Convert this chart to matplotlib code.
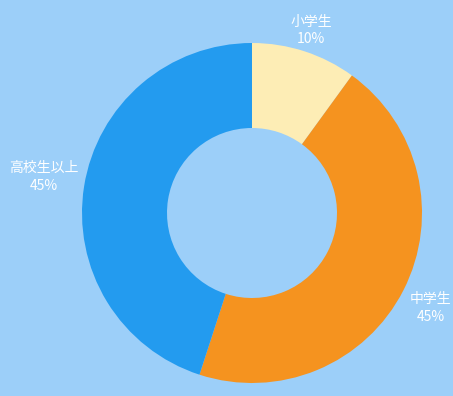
import numpy as np
import matplotlib
matplotlib.use('Agg')
import matplotlib.pyplot as plt

plt.rcParams['font.family'] = ['Noto Sans CJK JP', 'DejaVu Sans']

labels = ['小学生', '中学生', '高校生以上']
shares = [10, 45, 45]
colors = ['#fdedb5', '#f5931f', '#239bef']
label_dist = [1.13, 1.19, 1.245]  # how far each label sits out from the ring
label_turn = [0, -1.0, -0.8]      # small angle nudges (degrees)

bg = '#9ccff9'
W, H = 453, 396
fig = plt.figure(figsize=(W / 100, H / 100), dpi=100, facecolor=bg)
ax = fig.add_axes([0, 0, 1, 1])
ax.set_facecolor(bg)

cx, cy, r = 252, H - 213, 170
wedges, _ = ax.pie(shares, colors=colors, startangle=90, counterclock=False,
                   center=(cx, cy), radius=r, frame=True,
                   wedgeprops=dict(width=85, edgecolor='none'))

for w, lab, val, d, t in zip(wedges, labels, shares, label_dist, label_turn):
    mid = np.deg2rad((w.theta1 + w.theta2) / 2 + t)
    x = cx + r * d * np.cos(mid)
    y = cy + r * d * np.sin(mid)
    ax.text(x, y, f'{lab}\n{val}%', color='white', fontsize=10,
            ha='center', va='center', linespacing=1.3)

ax.set_xlim(0, W)
ax.set_ylim(0, H)
ax.set_aspect('equal')
ax.axis('off')

fig.savefig('out.png', dpi=100, facecolor=bg)
